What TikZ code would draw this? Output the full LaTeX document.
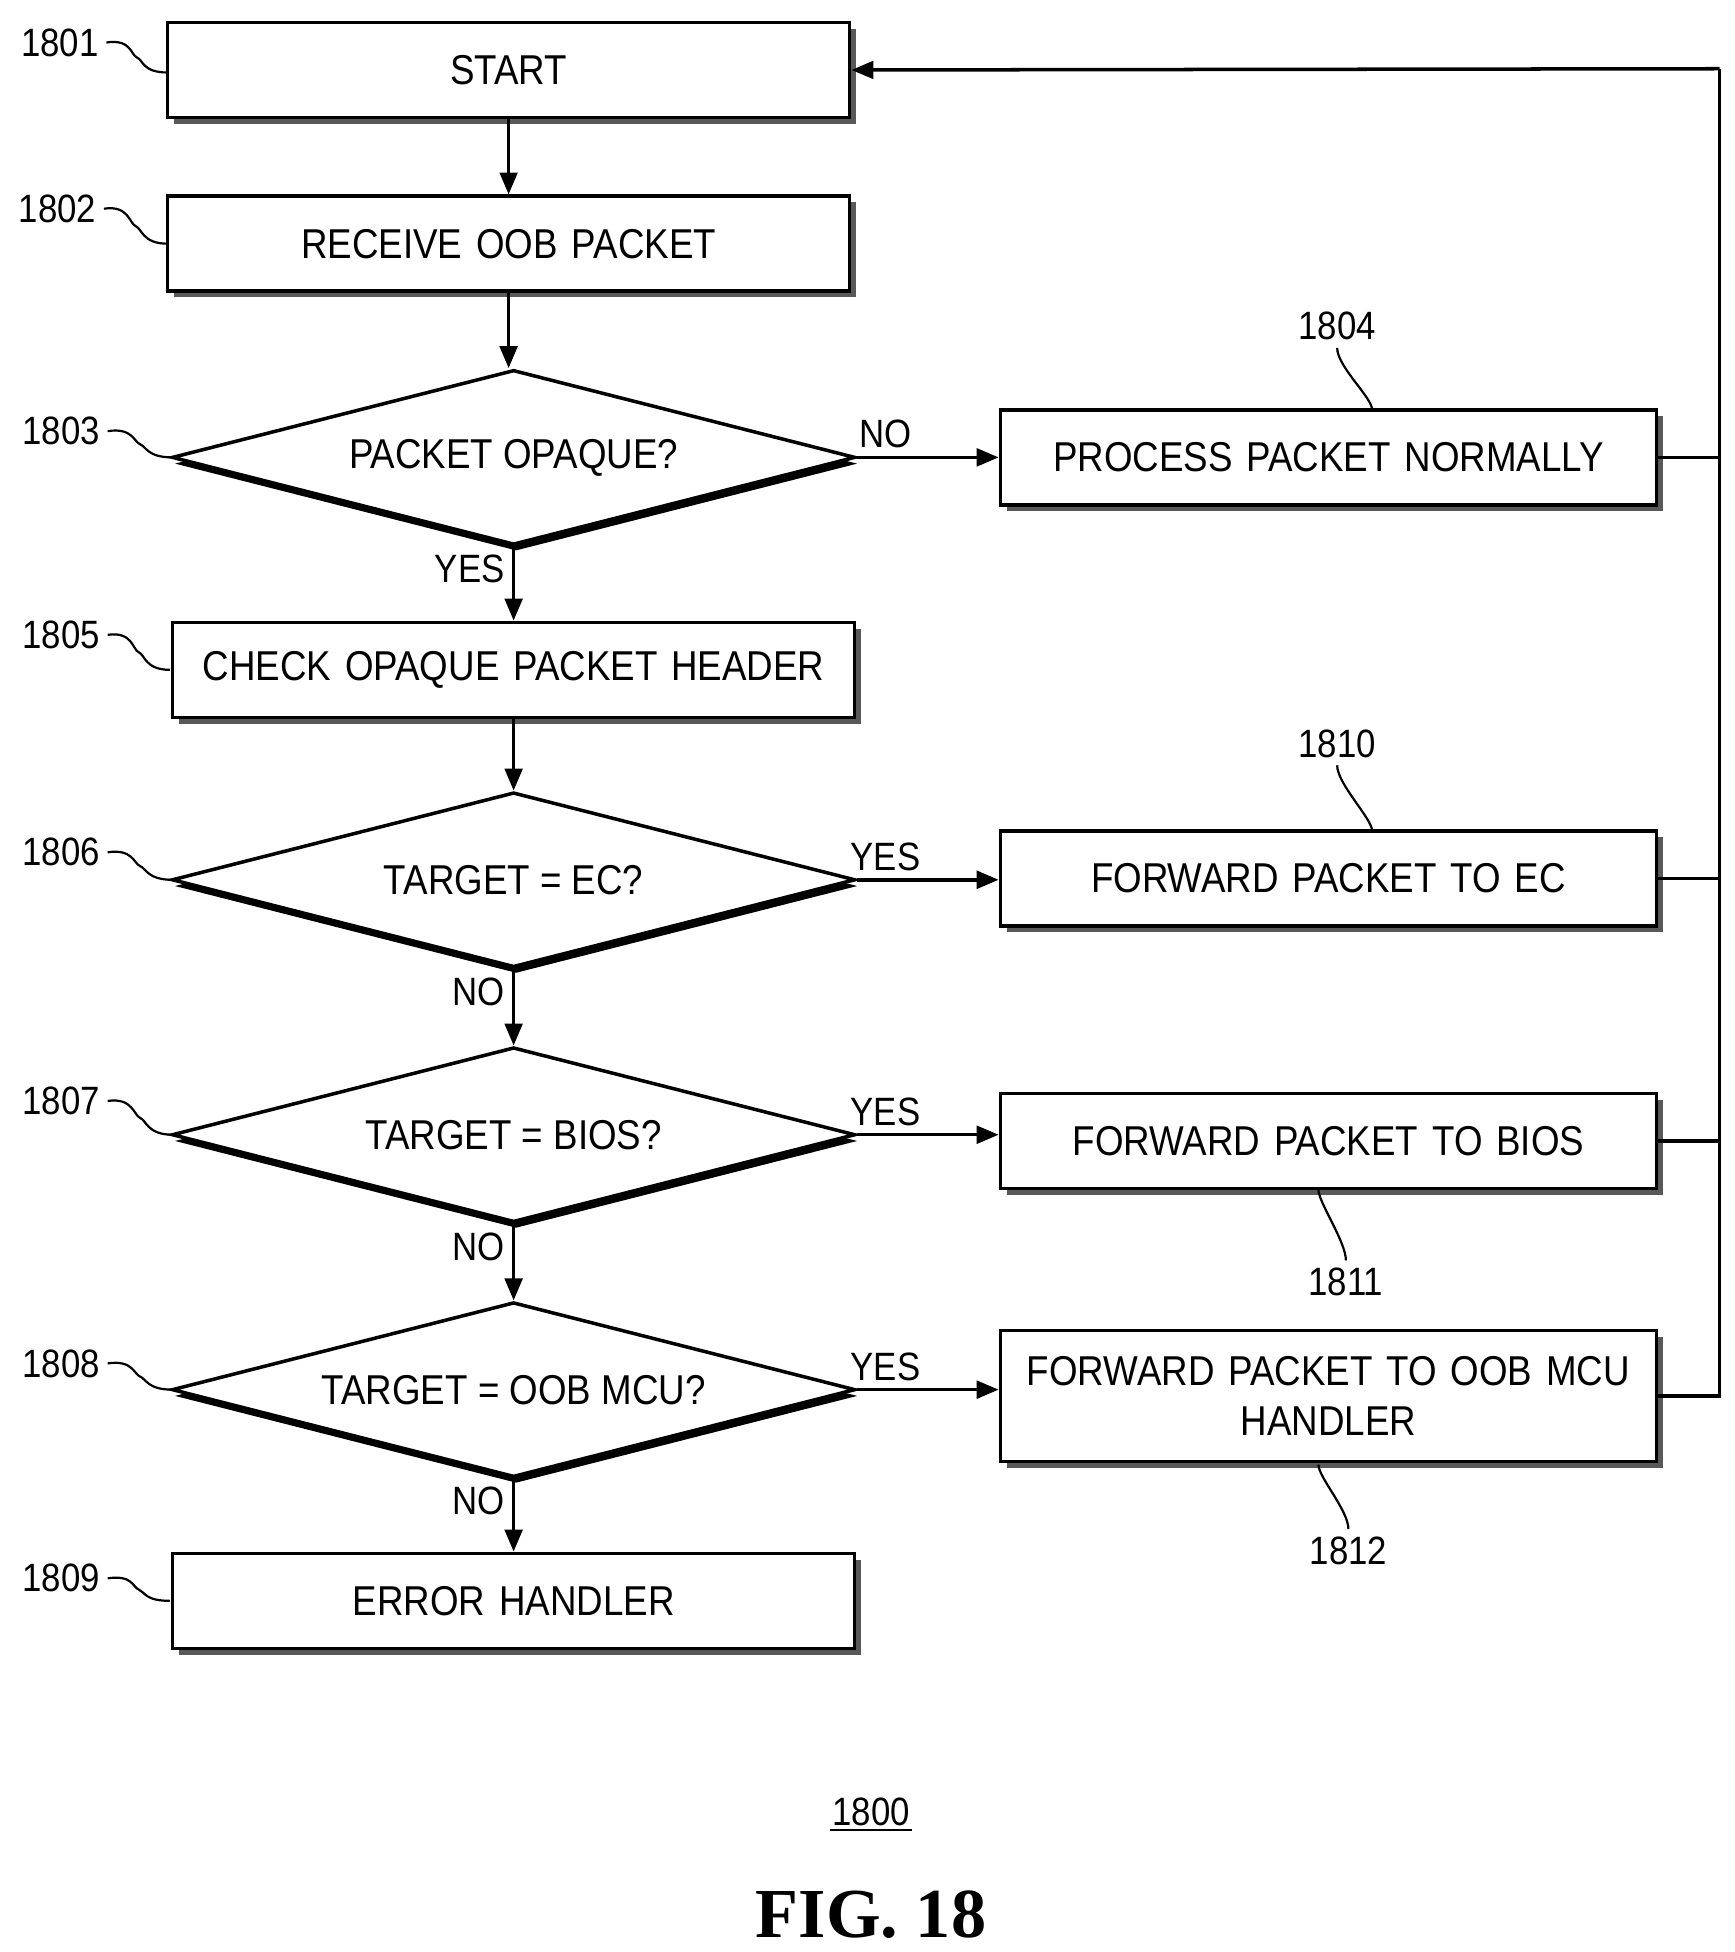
\documentclass[tikz,border=0pt]{standalone}
\usepackage{fontspec}
\setmainfont{Liberation Sans}[FakeStretch=0.88]
\newfontfamily\figfont{Liberation Serif}
\usetikzlibrary{shapes.geometric,arrows.meta,shadows,calc}
\begin{document}
\begin{tikzpicture}[x=0.02cm,y=-0.02cm,
  box/.style={draw,line width=1.6pt,fill=white,text width=10.92cm,minimum height=1.52cm,inner sep=0pt,font=\fontsize{19}{23}\selectfont,align=center,
    copy shadow={shadow xshift=0.1cm,shadow yshift=-0.1cm,fill=black!65,draw=none}},
  rbox/.style={box,text width=10.5cm},
  dia/.style={draw,line width=1.6pt,fill=white,diamond,aspect=3.9,minimum width=10.94cm,minimum height=2.8cm,inner sep=0pt,font=\fontsize{19}{23}\selectfont,
    copy shadow={shadow xshift=0.04cm,shadow yshift=-0.1cm,fill=black,draw=none}},
  arr/.style={line width=1.6pt,-{Triangle[length=10pt,width=8pt]}},
  ln/.style={line width=1.6pt},
  lab/.style={font=\fontsize{18}{22}\selectfont},
  sq/.style={line width=1pt}]
\useasboundingbox (0,0) rectangle (1388,1562);
\node[box] (n1801) at (407,56) {START};
\node[box] (n1802) at (407,195) {RECEIVE OOB PACKET};
\node[dia] (n1803) at (411,366) {PACKET OPAQUE?};
\node[box] (n1805) at (411,536) {CHECK OPAQUE PACKET HEADER};
\node[dia] (n1806) at (411,704) {TARGET = EC?};
\node[dia] (n1807) at (411,908) {TARGET = BIOS?};
\node[dia] (n1808) at (411,1112) {TARGET = OOB MCU?};
\node[box] (n1809) at (411,1281) {ERROR HANDLER};
\node[rbox] (n1804) at (1063,366) {PROCESS PACKET NORMALLY};
\node[rbox] (n1810) at (1063,703) {FORWARD PACKET TO EC};
\node[rbox] (n1811) at (1063,913) {FORWARD PACKET TO BIOS};
\node[rbox,minimum height=2.1cm] (n1812) at (1063,1117) {FORWARD PACKET TO OOB MCU\\HANDLER};
\draw[arr] (n1801) -- (n1802);
\draw[arr] (n1802.south) -- (n1802.south |- n1803.north);
\draw[arr] (n1803) -- node[left,lab,pos=0.3]{YES} (n1805);
\draw[arr] (n1805) -- (n1806);
\draw[arr] (n1806) -- node[left,lab,pos=0.3]{NO} (n1807);
\draw[arr] (n1807) -- node[left,lab,pos=0.3]{NO} (n1808);
\draw[arr] (n1808) -- node[left,lab,pos=0.3]{NO} (n1809);
\draw[arr] (n1803.east) -- node[above,lab,pos=0.2]{NO} (n1803.east -| n1804.west);
\draw[arr] (n1806.east) -- node[above,lab,pos=0.2]{YES} (n1806.east -| n1810.west);
\draw[arr] (n1807.east) -- node[above,lab,pos=0.2]{YES} (n1807.east -| n1811.west);
\draw[arr] (n1808.east) -- node[above,lab,pos=0.2]{YES} (n1808.east -| n1812.west);
\coordinate (top) at (1376,55);
\draw[ln] (n1804.east) -- (1376,366);
\draw[ln] (n1810.east) -- (1376,703);
\draw[ln] (n1811.east) -- (1376,913);
\draw[ln] (n1812.east) -- (1376,1117) -- (top);
\draw[arr] (top) -- (n1801.east);
\foreach \n/\x/\y/\ex/\ey in {1801/48/34/134/58,1802/46/167/134/195,1803/49/345/138/366,1805/49/508/136/536,1806/49/682/138/704,1807/49/881/138/908,1808/49/1091/138/1112,1809/49/1263/136/1281}{
  \node[lab] (l\n) at (\x,\y) {\n};
  \draw[sq] (l\n.east) .. controls +(20,-3) and +(-5,-2) .. ($(l\n.east)!0.5!(\ex,\ey)$) .. controls +(5,2) and +(-20,0) .. (\ex,\ey);
}
\node[lab] (l1804) at (1070,261) {1804};
\draw[sq] (l1804.south) .. controls +(0,15) and +(0,-10) .. (1098,328);
\node[lab] (l1810) at (1070,595) {1810};
\draw[sq] (l1810.south) .. controls +(0,15) and +(0,-10) .. (1098,665);
\node[lab] (l1811) at (1077,1026) {1811};
\draw[sq] (1055,952) .. controls +(0,10) and +(0,-15) .. (l1811.north);
\node[lab] (l1812) at (1079,1241) {1812};
\draw[sq] (1055,1172) .. controls +(0,10) and +(0,-15) .. (l1812.north);
\node[lab] (l1800) at (697,1450) {1800};
\draw[line width=1pt] ($(l1800.south west)+(4,-3)$) -- ($(l1800.south east)+(-4,-3)$);
\node[font=\figfont\bfseries\fontsize{32}{36}\selectfont] (fig) at (697,1532) {FIG. 18};
\end{tikzpicture}
\end{document}
